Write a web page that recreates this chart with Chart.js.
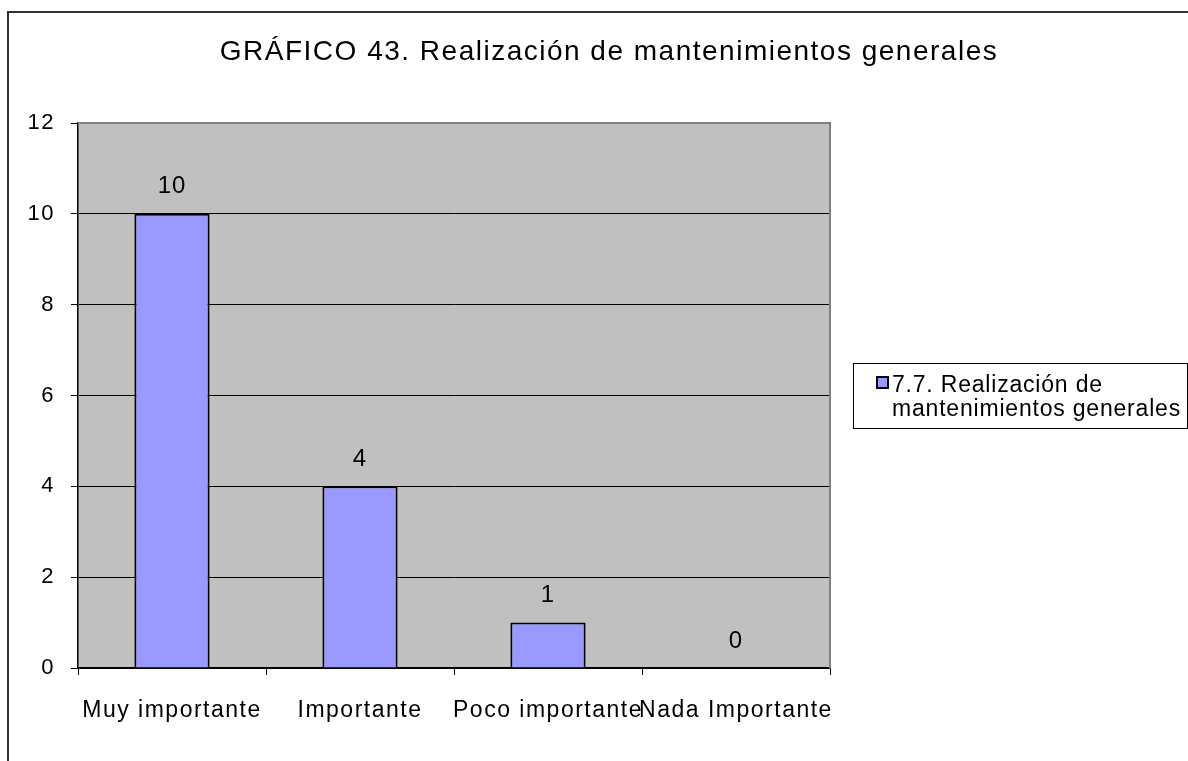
<!DOCTYPE html>
<html>
<head>
<meta charset="utf-8">
<script src="https://cdn.jsdelivr.net/npm/chart.js@4/dist/chart.umd.min.js"></script>
<style>
  html, body { margin: 0; padding: 0; background: #fff; }
  #wrap { width: 1188px; height: 761px; position: relative; }
</style>
</head>
<body>
<div id="wrap"><canvas id="myChart" width="1188" height="761"></canvas></div>
<script>
// datos
const titulo = "GRÁFICO 43. Realización de mantenimientos generales";
const categorias = ["Muy importante", "Importante", "Poco importante", "Nada Importante"];
const serieNombre = ["7.7. Realización de", "mantenimientos generales"];
const valores = [10, 4, 1, 0];
const ejeY = { min: 0, max: 12, paso: 2 };

const fuente = "'Liberation Sans', Arial, sans-serif";

// marco exterior, fondo gris del área, título y leyenda
const decoracion = {
  id: "decoracion",
  beforeDraw(chart) {
    const ctx = chart.ctx;
    const a = chart.chartArea;
    ctx.fillStyle = "#fff";
    ctx.fillRect(0, 0, chart.width, chart.height);
    ctx.strokeStyle = "#333";
    ctx.lineWidth = 2;
    ctx.strokeRect(8, 12, chart.width + 20, chart.height + 20);
    ctx.fillStyle = "#c0c0c0";
    ctx.fillRect(a.left, a.top, a.right - a.left, a.bottom - a.top);
    // texto algo más espaciado, también para las etiquetas de los ejes
    ctx.letterSpacing = "1.5px";
  },
  afterDraw(chart) {
    const ctx = chart.ctx;
    const a = chart.chartArea;
    ctx.save();
    // borde gris del área de trazado
    ctx.strokeStyle = "#808080";
    ctx.lineWidth = 2;
    ctx.beginPath();
    ctx.moveTo(a.left, a.top);
    ctx.lineTo(a.right, a.top);
    ctx.lineTo(a.right, a.bottom);
    ctx.stroke();

    // título
    ctx.fillStyle = "#000";
    ctx.font = "28px " + fuente;
    ctx.letterSpacing = "1.5px";
    ctx.textAlign = "center";
    ctx.textBaseline = "alphabetic";
    ctx.fillText(titulo, 609, 60);

    // leyenda
    ctx.strokeStyle = "#000";
    ctx.lineWidth = 1;
    ctx.strokeRect(853.5, 363.5, 334, 65);
    const ds = chart.data.datasets[0];
    ctx.fillStyle = ds.backgroundColor;
    ctx.fillRect(877, 377, 11, 11);
    ctx.lineWidth = 2;
    ctx.strokeRect(877, 377, 11, 11);
    ctx.fillStyle = "#000";
    ctx.font = "23px " + fuente;
    ctx.letterSpacing = "0.8px";
    ctx.textAlign = "left";
    ctx.textBaseline = "alphabetic";
    ctx.fillText(serieNombre[0], 892, 392);
    ctx.fillText(serieNombre[1], 892, 416);

    // valores sobre las barras
    const meta = chart.getDatasetMeta(0);
    ctx.font = "24px " + fuente;
    ctx.letterSpacing = "1px";
    ctx.textAlign = "center";
    ctx.textBaseline = "bottom";
    meta.data.forEach((bar, i) => {
      ctx.fillText(String(valores[i]), bar.x, bar.y - 15);
    });
    ctx.restore();
  }
};

const config = {
  type: "bar",
  data: {
    labels: categorias,
    datasets: [
      {
        label: serieNombre.join(" "),
        data: valores,
        backgroundColor: "#9999ff",
        borderColor: "#000",
        borderWidth: 2,
        categoryPercentage: 1,
        barPercentage: 0.4
      }
    ]
  },
  options: {
    responsive: false,
    animation: false,
    layout: { padding: { top: 123, right: 358, left: 0, bottom: 0 } },
    plugins: {
      legend: { display: false },
      title: { display: false },
      tooltip: { enabled: false }
    },
    scales: {
      x: {
        afterFit(scale) { scale.height = 93; },
        grid: {
          offset: true,
          drawOnChartArea: false,
          drawTicks: true,
          tickLength: 7,
          tickColor: "#000",
          color: "#000"
        },
        border: { display: true, color: "#000", width: 1.5 },
        ticks: {
          color: "#000",
          padding: 22,
          maxRotation: 0,
          autoSkip: false,
          font: { family: fuente, size: 23 }
        }
      },
      y: {
        min: ejeY.min,
        max: ejeY.max,
        afterFit(scale) { scale.width = 78; },
        grid: {
          color: (c) => (c.tick && c.tick.value === ejeY.max ? "rgba(0,0,0,0)" : "#000"),
          tickColor: "#000",
          tickLength: 7,
          lineWidth: 1
        },
        border: { display: true, color: "#000", width: 1.5 },
        ticks: {
          stepSize: ejeY.paso,
          color: "#000",
          padding: 16,
          font: { family: fuente, size: 22 }
        }
      }
    }
  },
  plugins: [decoracion]
};

const myChart = new Chart(document.getElementById("myChart"), config);
</script>
</body>
</html>
